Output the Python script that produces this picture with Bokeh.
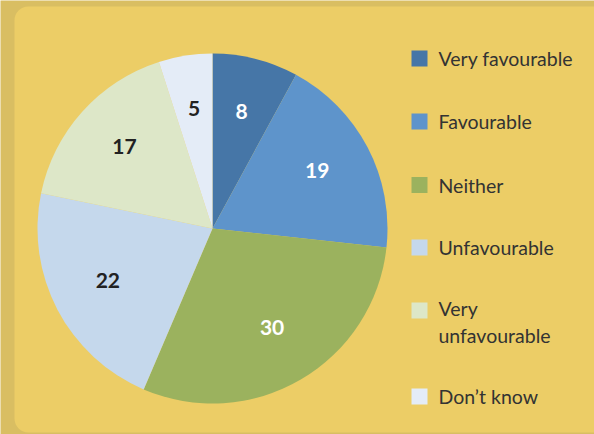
import math
from bokeh.plotting import figure
from bokeh.models import Range1d, BoxAnnotation, ColumnDataSource
from bokeh.core.properties import value
from bokeh.embed import file_html
from bokeh.resources import INLINE

# ---- data ----
categories = ["Very favourable", "Favourable", "Neither", "Unfavourable",
              "Very unfavourable", "Don\u2019t know"]
legend_labels = ["Very favourable", "Favourable", "Neither", "Unfavourable",
                 "Very\nunfavourable", "Don\u2019t know"]
values = [8, 19, 30, 22, 17, 5]
colors = ["#4676a7", "#5e94cb", "#9bb25e", "#c5d8ec", "#dde7c8", "#e4ecf7"]
label_colors = ["#ffffff", "#ffffff", "#ffffff", "#222222", "#222222", "#222222"]

# ---- layout (reference pixel coords, y flipped: y = 434 - ref_y) ----
W, H = 594, 434
OUTER = "#d9be62"
INNER = "#eccd66"
cx, cy, R = 212, H - 228, 175
label_r = 0.675 * R

total = sum(values)
starts, ends, lx, ly = [], [], [], []
cum = 0
for v in values:
    a0 = math.pi / 2 - 2 * math.pi * cum / total
    cum += v
    a1 = math.pi / 2 - 2 * math.pi * cum / total
    starts.append(a0)
    ends.append(a1)
    mid = (a0 + a1) / 2
    lx.append(cx + label_r * math.cos(mid))
    ly.append(cy + label_r * math.sin(mid))

src = ColumnDataSource(dict(cat=categories, val=[str(v) for v in values],
                            start=starts, end=ends, color=colors,
                            lcolor=label_colors, lx=lx, ly=ly))

p = figure(width=W, height=H, output_backend="svg", toolbar_location=None,
           x_range=Range1d(0, W), y_range=Range1d(0, H), min_border=0)
p.axis.visible = False
p.grid.visible = False
p.outline_line_color = None
p.background_fill_color = OUTER
p.border_fill_color = OUTER

panel = BoxAnnotation(left=14, right=640, top=H - 6, bottom=H - 432,
                      fill_color=INNER, fill_alpha=1.0, line_color=None,
                      border_radius=14, level="underlay")
p.add_layout(panel)

p.wedge(x=cx, y=cy, radius=R, start_angle="start", end_angle="end",
        direction="clock", fill_color="color", line_color=None, source=src)

p.text(x="lx", y="ly", text="val", text_color="lcolor", source=src,
       text_align="center", text_baseline="middle", y_offset=-3,
       text_font=value("Lato"), text_font_style="bold", text_font_size="21px")

# legend
row_y = [58, 121, 184.5, 247, 310, 396]
sq_y = [H - y for y in row_y]
txt_y = [H - y for y in row_y]
txt_y[4] = H - (row_y[4] + 11.7)
p.rect(x=[419] * len(colors), y=sq_y, width=16, height=16,
       fill_color=colors, line_color=None)
p.text(x=[438] * len(colors), y=txt_y, text=legend_labels,
       text_align="left", text_baseline="middle", text_color="#333333",
       text_font=value("Lato"), text_font_size="19.5px", text_line_height=1.2)

html = file_html(p, INLINE)
open("out.html", "w").write(html)
